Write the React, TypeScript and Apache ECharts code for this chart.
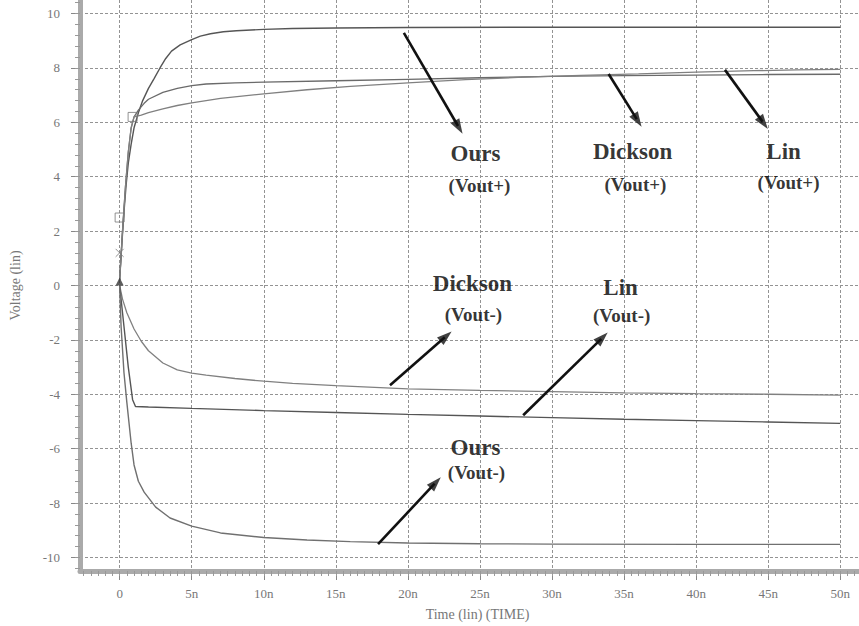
import React, { useEffect, useRef } from "react";
import * as echarts from "echarts";

// ---------- axes ----------
const X_MIN = -2.75;
const X_MAX = 51.3;
const Y_MIN = -10.5;
const Y_MAX = 10.5;
const xTicks = [0, 5, 10, 15, 20, 25, 30, 35, 40, 45, 50];
const xTickLabels = ["0", "5n", "10n", "15n", "20n", "25n", "30n", "35n", "40n", "45n", "50n"];
const yTicks = [-10, -8, -6, -4, -2, 0, 2, 4, 6, 8, 10];
const yTickLabels = ["-10", "-8", "-6", "-4", "-2", "0", "2", "4", "6", "8", "10"];

// ---------- waveforms: [time (ns), voltage (V)] ----------
const oursVoutPlus: number[][] = [
  [0, 0.2], [0.15, 1.5], [0.3, 2.7], [0.45, 3.7], [0.6, 4.5], [0.8, 5.2], [1, 5.8], [1.3, 6.35],
  [1.6, 6.8], [2, 7.25], [2.4, 7.62], [2.8, 8.0], [3.2, 8.35], [3.6, 8.62], [4.2, 8.85], [5, 9.04],
  [5.6, 9.17], [6.3, 9.26], [7.2, 9.33], [8.1, 9.37], [10, 9.42], [12, 9.45], [15, 9.47], [20, 9.49],
  [30, 9.5], [40, 9.5], [50, 9.5],
];
const dicksonVoutPlus: number[][] = [
  [0, 0.2], [0.2, 2.0], [0.4, 3.6], [0.6, 4.9], [0.8, 5.8], [1, 6.2], [1.3, 6.45], [1.7, 6.7],
  [2, 6.85], [3, 7.1], [4, 7.25], [5, 7.35], [6, 7.41], [8, 7.45], [10, 7.48], [15, 7.53],
  [20, 7.58], [25, 7.64], [30, 7.69], [35, 7.72], [40, 7.74], [45, 7.76], [50, 7.77],
];
const linVoutPlus: number[][] = [
  [0, 0.2], [0.2, 2.0], [0.4, 3.6], [0.6, 4.9], [0.8, 5.8], [1, 6.2], [1.5, 6.27], [2, 6.36],
  [3, 6.5], [4, 6.62], [5, 6.72], [7, 6.88], [10, 7.05], [13, 7.2], [16, 7.32], [20, 7.45],
  [24, 7.57], [28, 7.66], [32, 7.73], [36, 7.78], [40, 7.85], [44, 7.9], [47, 7.93], [50, 7.95],
];
const dicksonVoutMinus: number[][] = [
  [0, 0], [0.2, -0.5], [0.5, -1.0], [1, -1.6], [1.5, -2.05], [2, -2.4], [3, -2.85], [4, -3.1],
  [5, -3.22], [6, -3.3], [8, -3.42], [10, -3.52], [12, -3.6], [15, -3.68], [20, -3.8], [25, -3.86],
  [30, -3.9], [35, -3.95], [40, -3.98], [45, -4.0], [50, -4.03],
];
const linVoutMinus: number[][] = [
  [0, 0], [0.3, -1.5], [0.6, -3.0], [0.9, -4.2], [1.1, -4.45], [2, -4.47], [5, -4.52], [10, -4.6],
  [15, -4.67], [20, -4.74], [25, -4.8], [30, -4.86], [35, -4.92], [40, -4.97], [45, -5.02], [50, -5.07],
];
const oursVoutMinus: number[][] = [
  [0, 0], [0.1, -1.5], [0.3, -3.2], [0.5, -4.3], [0.8, -5.8], [1, -6.6], [1.3, -7.2], [1.7, -7.6],
  [2.5, -8.15], [3.5, -8.55], [5, -8.85], [7, -9.1], [10, -9.27], [13, -9.36], [16, -9.42],
  [20, -9.47], [25, -9.5], [30, -9.51], [40, -9.52], [50, -9.52],
];

// ---------- waveform markers near t = 0 ----------
const squareMarkers: number[][] = [[0, 2.5], [0.9, 6.2]];
const crossMarkers: number[][] = [[0, 1.2]];
const triangleMarkers: number[][] = [[0, 0.15]];

// ---------- annotations (data coordinates) ----------
const arrowTails: number[][] = [
  [19.72, 9.29], [33.93, 7.78], [42.0, 7.93], [18.76, -3.67], [28.0, -4.77], [17.93, -9.51],
];
const arrowHeads: number[][] = [
  [23.79, 5.58], [36.21, 5.84], [44.97, 5.76], [23.03, -1.69], [33.86, -1.73], [22.28, -7.05],
];
const bigLabels: [number, number, string][] = [
  [24.69, 4.85, "Ours"], [35.59, 4.92, "Dickson"], [46.07, 4.92, "Lin"],
  [24.48, 0.07, "Dickson"], [34.76, -0.07, "Lin"], [24.69, -5.95, "Ours"],
];
const smallLabels: [number, number, string][] = [
  [24.97, 3.67, "(Vout+)"], [35.79, 3.71, "(Vout+)"], [46.41, 3.78, "(Vout+)"],
  [24.55, -1.06, "(Vout-)"], [34.83, -1.1, "(Vout-)"], [24.76, -6.86, "(Vout-)"],
];

const SERIF = "'Liberation Serif', 'DejaVu Serif', serif";
const GRID = { left: 75, right: 0, top: 0, bottom: 54 };
const CHART_W = 859;
const CHART_H = 626;

function range(a: number, b: number, step: number): number[] {
  const out: number[] = [];
  for (let v = a; v <= b + 1e-9; v += step) out.push(Math.round(v * 100) / 100);
  return out;
}

function buildOption(): echarts.EChartsCoreOption {
  const xMinor = range(-2.5, 51, 0.5);
  const yMinor = range(-10.4, 10.4, 0.4);
  const tickLabelStyle = { color: "#777", fontFamily: SERIF, fontSize: 13 };

  // pixel scale of the plot, used only to orient the arrowheads
  const pxPerX = (CHART_W - GRID.left - GRID.right) / (X_MAX - X_MIN);
  const pxPerY = (CHART_H - GRID.top - GRID.bottom) / (Y_MAX - Y_MIN);
  const HEAD_LEN = 15;
  const heads = arrowHeads.map((h, i) => {
    const t = arrowTails[i];
    const dxp = (h[0] - t[0]) * pxPerX;
    const dyUp = (h[1] - t[1]) * pxPerY;
    const len = Math.hypot(dxp, dyUp);
    const ux = dxp / len;
    const uy = dyUp / len;
    const phi = (Math.atan2(dyUp, dxp) * 180) / Math.PI;
    return {
      value: [h[0] - (ux * HEAD_LEN * 0.5) / pxPerX, h[1] - (uy * HEAD_LEN * 0.5) / pxPerY],
      symbolRotate: phi - 90,
      shaftEnd: [h[0] - (ux * HEAD_LEN * 0.6) / pxPerX, h[1] - (uy * HEAD_LEN * 0.6) / pxPerY],
    };
  });

  const lineSeries = (name: string, data: number[][], color: string, width = 1.3) => ({
    name,
    type: "line",
    data,
    showSymbol: false,
    symbol: "none",
    silent: true,
    lineStyle: { color, width },
    z: 3,
  });
  return {
    animation: false,
    backgroundColor: "#ffffff",
    grid: { ...GRID, containLabel: false },
    xAxis: [
      {
        type: "value",
        min: X_MIN,
        max: X_MAX,
        position: "bottom",
        name: "Time (lin) (TIME)",
        nameLocation: "middle",
        nameGap: 36,
        nameTextStyle: { color: "#777", fontFamily: SERIF, fontSize: 14, padding: [0, 0, 0, 16] },
        axisLine: { show: true, onZero: false, lineStyle: { color: "#aaaaaa", width: 5 } },
        axisTick: { show: true, customValues: xTicks, length: 9, lineStyle: { color: "#888", width: 1 } },
        axisLabel: {
          customValues: xTicks,
          margin: 16,
          formatter: (v: number) => xTickLabels[xTicks.indexOf(v)] ?? "",
          ...tickLabelStyle,
        },
        splitLine: { show: true, lineStyle: { color: "#939393", width: 1, type: [3, 2] } },
      },
      {
        type: "value",
        min: X_MIN,
        max: X_MAX,
        position: "bottom",
        axisLine: { show: false, onZero: false },
        axisTick: { show: true, customValues: xMinor, length: 5, lineStyle: { color: "#999", width: 1 } },
        axisLabel: { show: false },
        splitLine: { show: false },
      },
    ],
    yAxis: [
      {
        type: "value",
        min: Y_MIN,
        max: Y_MAX,
        position: "left",
        name: "Voltage (lin)",
        nameLocation: "middle",
        nameGap: 58,
        nameTextStyle: { color: "#777", fontFamily: SERIF, fontSize: 14 },
        axisLine: { show: true, onZero: false, lineStyle: { color: "#aaaaaa", width: 5 } },
        axisTick: { show: true, customValues: yTicks, length: 9, lineStyle: { color: "#888", width: 1 } },
        axisLabel: {
          customValues: yTicks,
          margin: 20,
          formatter: (v: number) => yTickLabels[yTicks.indexOf(v)] ?? "",
          ...tickLabelStyle,
        },
        splitLine: { show: true, lineStyle: { color: "#939393", width: 1, type: [3, 2] } },
      },
      {
        type: "value",
        min: Y_MIN,
        max: Y_MAX,
        position: "left",
        axisLine: { show: false, onZero: false },
        axisTick: { show: true, customValues: yMinor, length: 5, lineStyle: { color: "#999", width: 1 } },
        axisLabel: { show: false },
        splitLine: { show: false },
      },
    ],
    series: [
      lineSeries("Ours Vout+", oursVoutPlus, "#555555", 1.4),
      lineSeries("Dickson Vout+", dicksonVoutPlus, "#6a6a6a", 1.3),
      lineSeries("Lin Vout+", linVoutPlus, "#808080", 1.3),
      lineSeries("Dickson Vout-", dicksonVoutMinus, "#808080", 1.3),
      lineSeries("Lin Vout-", linVoutMinus, "#555555", 1.4),
      lineSeries("Ours Vout-", oursVoutMinus, "#707070", 1.4),
      {
        type: "scatter",
        data: squareMarkers,
        symbol: "rect",
        symbolSize: 9,
        silent: true,
        itemStyle: { color: "rgba(0,0,0,0)", borderColor: "#777", borderWidth: 1 },
        z: 4,
      },
      {
        type: "scatter",
        data: crossMarkers,
        symbol: "path://M0,0L10,10M10,0L0,10",
        symbolSize: 8,
        silent: true,
        itemStyle: { color: "rgba(0,0,0,0)", borderColor: "#777", borderWidth: 1 },
        z: 4,
      },
      {
        type: "scatter",
        data: triangleMarkers,
        symbol: "triangle",
        symbolSize: 8,
        silent: true,
        itemStyle: { color: "#333" },
        z: 4,
      },
      {
        type: "line",
        data: [],
        silent: true,
        markLine: {
          silent: true,
          symbol: ["none", "none"],
          label: { show: false },
          lineStyle: { color: "#111", width: 2.6, type: "solid" },
          emphasis: { disabled: true },
          data: arrowTails.map((t, i) => [{ coord: t }, { coord: heads[i].shaftEnd }]),
        },
        z: 5,
      },
      {
        type: "scatter",
        data: heads.map((h) => ({ value: h.value, symbolRotate: h.symbolRotate })),
        symbol: "triangle",
        symbolSize: [10, HEAD_LEN],
        silent: true,
        itemStyle: { color: "#111" },
        z: 6,
      },
      {
        type: "scatter",
        data: bigLabels,
        symbolSize: 0,
        silent: true,
        label: {
          show: true,
          position: "inside",
          formatter: (p: any) => p.data[2],
          color: "#000",
          fontFamily: SERIF,
          fontWeight: "bold",
          fontSize: 23,
        },
        z: 6,
      },
      {
        type: "scatter",
        data: smallLabels,
        symbolSize: 0,
        silent: true,
        label: {
          show: true,
          position: "inside",
          formatter: (p: any) => p.data[2],
          color: "#000",
          fontFamily: SERIF,
          fontWeight: "bold",
          fontSize: 19,
        },
        z: 6,
      },
    ],
  };
}

export default function App() {
  const ref = useRef<HTMLDivElement>(null);
  useEffect(() => {
    document.body.style.margin = "0";
    const chart = echarts.init(ref.current!, null, { renderer: "svg" });
    chart.setOption(buildOption());
    return () => chart.dispose();
  }, []);
  return <div ref={ref} style={{ width: CHART_W, height: CHART_H }} />;
}
